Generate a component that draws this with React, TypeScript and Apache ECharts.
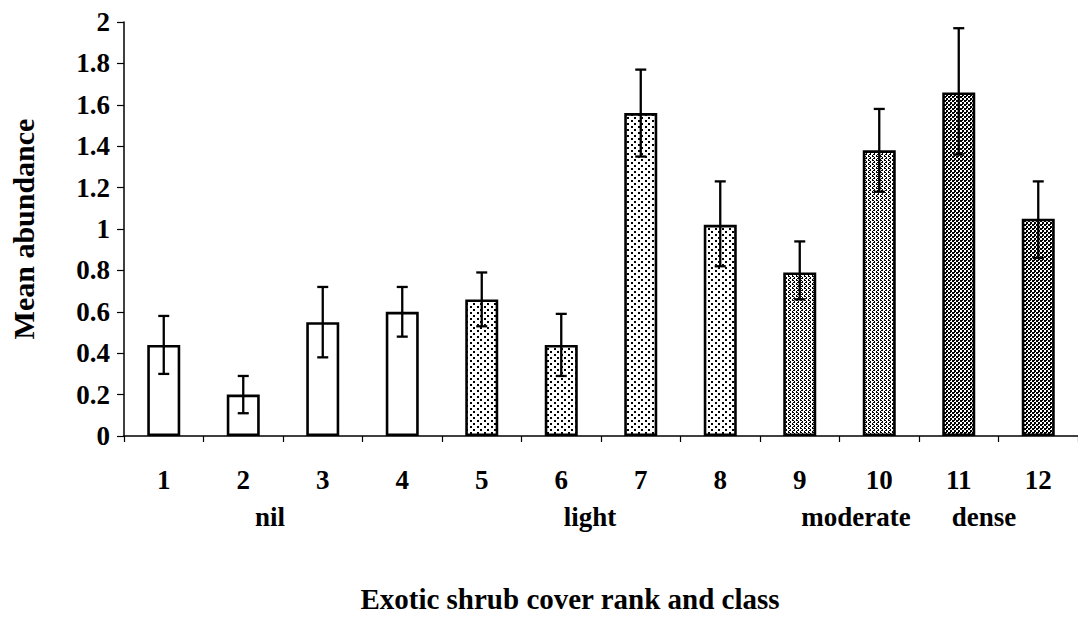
import React, { useEffect, useRef } from "react";
import * as echarts from "echarts";

// ---- data ----
const categories = ["1", "2", "3", "4", "5", "6", "7", "8", "9", "10", "11", "12"];
const meanValues = [0.44, 0.2, 0.55, 0.6, 0.66, 0.44, 1.56, 1.02, 0.79, 1.38, 1.66, 1.05];
const errorLow = [0.3, 0.11, 0.38, 0.48, 0.53, 0.29, 1.35, 0.82, 0.66, 1.18, 1.36, 0.86];
const errorHigh = [0.58, 0.29, 0.72, 0.72, 0.79, 0.59, 1.77, 1.23, 0.94, 1.58, 1.97, 1.23];
const coverClass = ["nil", "nil", "nil", "nil", "light", "light", "light", "light", "moderate", "moderate", "dense", "dense"];
const classLabels = ["nil", "light", "moderate", "dense"];
const yMin = 0;
const yMax = 2;
const yStep = 0.2;
const xTitle = "Exotic shrub cover rank and class";
const yTitle = "Mean abundance";

const FONT = "Liberation Serif";

function makePattern(w: number, h: number, cells: number[][]) {
  const c = document.createElement("canvas");
  c.width = w;
  c.height = h;
  const ctx = c.getContext("2d")!;
  ctx.fillStyle = "#ffffff";
  ctx.fillRect(0, 0, w, h);
  ctx.fillStyle = "#000000";
  cells.forEach(([x, y, cw, ch]) => ctx.fillRect(x, y, cw, ch));
  return { image: c, repeat: "repeat", imageWidth: w, imageHeight: h } as any;
}

export default function App() {
  const ref = useRef<HTMLDivElement>(null);

  useEffect(() => {
    document.body.style.margin = "0";
    if (!ref.current) return;
    const chart = echarts.init(ref.current, null, { renderer: "svg" });

    const fills: Record<string, any> = {
      nil: "#ffffff",
      light: makePattern(7, 6, [
        [1, 0, 2, 2],
        [4, 3, 2, 2],
      ]),
      moderate: makePattern(4, 4, [
        [0, 0, 2, 1],
        [2, 1, 1, 1],
        [1, 2, 2, 1],
        [0, 3, 1, 1],
      ]),
      dense: makePattern(4, 4, [
        [0, 0, 2, 2],
        [2, 2, 2, 2],
        [2, 0, 1, 1],
      ]),
    };

    const textBase = { fontFamily: FONT, fontWeight: "bold", color: "#000" };

    const classX = [270, 590, 856, 984];

    chart.setOption({
      animation: false,
      backgroundColor: "#ffffff",
      grid: { left: 123, right: -5, top: 22, bottom: 187 },
      xAxis: {
        type: "category",
        data: categories,
        axisLine: { show: true, lineStyle: { color: "#000", width: 1.5 } },
        axisTick: { show: true, length: 6, lineStyle: { color: "#000", width: 1.2 } },
        axisLabel: { ...textBase, fontSize: 27, margin: 30 },
        name: xTitle,
        nameLocation: "middle",
        nameGap: 148,
        nameTextStyle: { ...textBase, fontSize: 29, padding: [0, 62, 0, 0] },
      },
      yAxis: {
        type: "value",
        min: yMin,
        max: yMax,
        interval: yStep,
        splitLine: { show: false },
        axisLine: { show: true, lineStyle: { color: "#000", width: 1.5 } },
        axisTick: { show: true, length: 7, lineStyle: { color: "#000", width: 1.2 } },
        axisLabel: {
          ...textBase,
          fontSize: 27,
          margin: 14,
          formatter: (v: number) => String(Math.round(v * 10) / 10),
        },
        name: yTitle,
        nameLocation: "middle",
        nameRotate: 90,
        nameGap: 86,
        nameTextStyle: { ...textBase, fontSize: 30 },
      },
      graphic: classLabels.map((label, i) => ({
        type: "text",
        x: classX[i],
        y: 517,
        style: {
          text: label,
          fontFamily: FONT,
          fontWeight: "bold",
          fontSize: 27,
          fill: "#000",
          textAlign: "center",
          textVerticalAlign: "middle",
        },
      })),
      series: [
        {
          type: "bar",
          barWidth: 33,
          data: meanValues.map((v, i) => ({
            value: v,
            itemStyle: {
              color: fills[coverClass[i]],
              borderColor: "#000",
              borderWidth: 2.6,
            },
          })),
        },
        {
          type: "custom",
          z: 5,
          data: categories.map((_, i) => [i, errorLow[i], errorHigh[i]]),
          renderItem: (params: any, api: any) => {
            const x = api.value(0);
            const pLo = api.coord([x, api.value(1)]);
            const pHi = api.coord([x, api.value(2)]);
            const hw = 5.5;
            const st = { stroke: "#000", lineWidth: 2.3 };
            return {
              type: "group",
              children: [
                { type: "line", shape: { x1: pHi[0], y1: pHi[1], x2: pLo[0], y2: pLo[1] }, style: st },
                { type: "line", shape: { x1: pHi[0] - hw, y1: pHi[1], x2: pHi[0] + hw, y2: pHi[1] }, style: st },
                { type: "line", shape: { x1: pLo[0] - hw, y1: pLo[1], x2: pLo[0] + hw, y2: pLo[1] }, style: st },
              ],
            };
          },
        },
      ],
    });

    return () => chart.dispose();
  }, []);

  return <div ref={ref} style={{ width: 1078, height: 623 }} />;
}
